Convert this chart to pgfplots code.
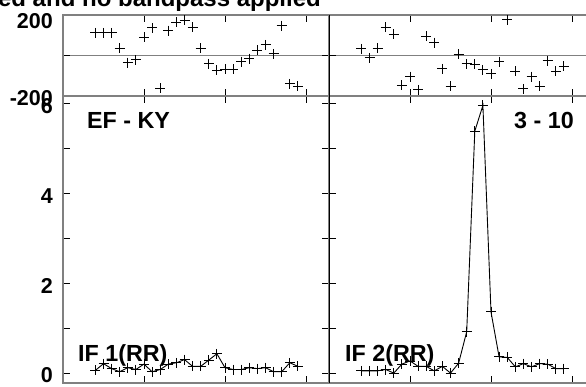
\documentclass[border=0pt]{standalone}
\usepackage{pgfplots}
\pgfplotsset{compat=1.18}
\usepackage{fontspec}
\setmainfont{Liberation Sans}

\pgfplotstableread{
x ph1 ph2 am1 am2
4 112 33 0.07 0.06
5 112 -12 0.22 0.06
6 112 36 0.11 0.06
7 36 140 0.04 0.09
8 -35 104 0.13 0.01
9 -21 -148 0.09 0.21
10 91 -104 0.21 0.28
11 137 -170 0.04 0.16
12 -161 94 0.09 0.16
13 123 63 0.21 0.06
14 165 -66 0.24 0.16
15 173 -153 0.31 0.01
16 140 5 0.16 0.23
17 36 -41 0.16 0.93
18 -41 -44 0.30 5.39
19 -74 -71 0.44 5.96
20 -69 -91 0.13 1.37
21 -69 -30 0.09 0.37
22 -30 176 0.09 0.36
23 -16 -79 0.13 0.15
24 25 -165 0.11 0.22
25 53 -104 0.13 0.15
26 8 -153 0.04 0.22
27 148 -25 0.04 0.21
28 -140 -79 0.24 0.11
29 -153 -53 0.16 0.11
}\datatable

\pgfplotsset{
  panel/.style={scale only axis, anchor=south west, width=266pt,
    xmin=0, xmax=32.84, xtick={10,20,30}, xticklabels={},
    tick align=inside, major tick length=7pt,
    axis line style={draw=gray, line width=1.2pt},
    tick style={black, line width=0.8pt},
    yticklabel style={font=\bfseries\fontsize{21.5}{21.5}\selectfont, inner sep=0pt, xshift=-10pt, yshift=-2pt}},
  phase/.style={panel, height=81pt, ymin=-200, ymax=200, ytick={-200,0,200},
    ymajorgrids, major grid style={gray, line width=1.2pt}},
  amp/.style={panel, height=287pt, ymin=-0.21, ymax=6.17, ytick={0,1,2,3,4,5,6}},
  dat/.style={black, mark=+, mark size=5pt, line width=0.9pt, mark options={line width=0.9pt}}
}

\begin{document}
\begin{tikzpicture}[x=1pt,y=1pt]
\path[use as bounding box] (0pt,0pt) rectangle (586pt,386pt);
\clip (0pt,0pt) rectangle (586pt,386pt);

% left phase
\begin{axis}[phase, at={(63pt,290pt)}, yticklabels={-200,,\smash{\raisebox{-11.5pt}{200}}}]
\addplot[dat, only marks] table[x=x, y=ph1] {\datatable};
\end{axis}
% right phase
\begin{axis}[phase, at={(329pt,290pt)}, yticklabels={}]
\addplot[dat, only marks] table[x=x, y=ph2] {\datatable};
\end{axis}
% left amplitude
\begin{axis}[amp, at={(63pt,3pt)}, yticklabels={0,,2,,4,,6}]
\addplot[dat] table[x=x, y=am1] {\datatable};
\end{axis}
% right amplitude
\begin{axis}[amp, at={(329pt,3pt)}, yticklabels={}]
\addplot[dat] table[x=x, y=am2] {\datatable};
\end{axis}

\draw[black, line width=1pt] (329pt,3pt) -- (329pt,371pt);

\node[anchor=base east, inner sep=0pt, font=\bfseries\fontsize{24}{24}\selectfont] at (321pt,379pt) {ed and no bandpass applied};
\node[anchor=base west, inner sep=0pt, font=\bfseries\fontsize{23.3}{23.3}\selectfont] at (87pt,257pt) {EF - KY};
\node[anchor=base east, inner sep=0pt, font=\bfseries\fontsize{23.3}{23.3}\selectfont] at (574pt,257.7pt) {3 - 10};
\node[anchor=base west, inner sep=0pt, font=\bfseries\fontsize{23.3}{23.3}\selectfont] at (78pt,24.3pt) {IF 1(RR)};
\node[anchor=base west, inner sep=0pt, font=\bfseries\fontsize{23.3}{23.3}\selectfont] at (345pt,24.3pt) {IF 2(RR)};
\end{tikzpicture}
\end{document}
